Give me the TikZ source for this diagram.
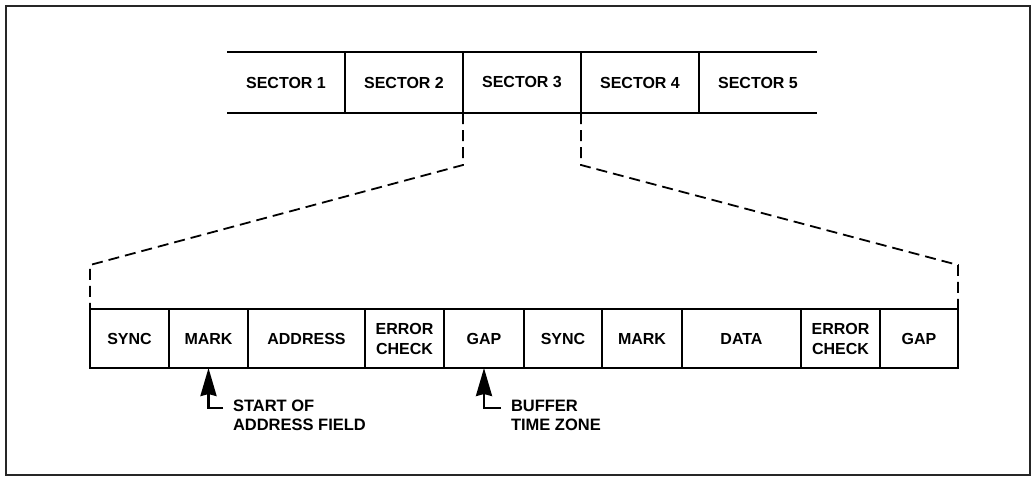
\documentclass[tikz,border=0pt]{standalone}
\usepackage{fontspec}
\setmainfont{Liberation Sans}
\usetikzlibrary{arrows.meta}

\begin{document}
\begin{tikzpicture}[x=1pt,y=-1pt,
  lbl/.style={font=\bfseries\fontsize{16}{20}\selectfont, align=center},
  frame/.style={draw=black!85, line width=1.3pt, minimum width=1024pt, minimum height=469pt, inner sep=0pt, outer sep=0pt},
  sector/.style={lbl, anchor=north west, minimum width=118pt, minimum height=61pt, inner sep=0pt, outer sep=0pt},
  bar/.style={line width=2.9pt},
  field/.style={lbl, draw, line width=2.9pt, anchor=north west, minimum height=59pt, inner sep=0pt, outer sep=0pt},
  dashline/.style={line width=1.8pt, dash pattern=on 11pt off 6pt},
  note/.style={font=\bfseries\fontsize{16.5}{19}\selectfont, align=left, anchor=north west, inner sep=0pt, outer sep=0pt},
  pointer/.style={line width=2.6pt, -{Stealth[length=28pt, width=16pt, inset=2pt]}}]

\useasboundingbox (0,0) rectangle (1031,477);

% outer frame
\node[frame] (border) at (518,240.5) {};

% track divided into sectors
\foreach \i/\x in {1/227,2/345,3/463,4/581,5/699}
  \node[sector] (s\i) at (\x,52) {SECTOR \i};
\draw[bar] (s1.north west) -- (s5.north east);
\draw[bar] (s1.south west) -- (s5.south east);
\foreach \i in {1,2,3,4}
  \draw[bar] (s\i.north east) -- (s\i.south east);

% expanded layout of one sector
\node[field, minimum width=79pt]  (f1)  at (90,309)  {SYNC};
\node[field, minimum width=79pt]  (f2)  at (169,309) {MARK};
\node[field, minimum width=117pt] (f3)  at (248,309) {ADDRESS};
\node[field, minimum width=79pt]  (f4)  at (365,309) {ERROR\\CHECK};
\node[field, minimum width=80pt]  (f5)  at (444,309) {GAP};
\node[field, minimum width=78pt]  (f6)  at (524,309) {SYNC};
\node[field, minimum width=80pt]  (f7)  at (602,309) {MARK};
\node[field, minimum width=119pt] (f8)  at (682,309) {DATA};
\node[field, minimum width=79pt]  (f9)  at (801,309) {ERROR\\CHECK};
\node[field, minimum width=78pt]  (f10) at (880,309) {GAP};

% projection lines from sector 3
\draw[dashline] (s3.south west) -- ++(0,52) -- ([yshift=44pt]f1.north west) -- (f1.north west);
\draw[dashline] (s4.south west) -- ++(0,52) -- ([yshift=44pt]f10.north east) -- (f10.north east);

% annotations
\node[note] (n1) at (233,400) {START OF\\ADDRESS FIELD};
\node[note] (n2) at (511,400) {BUFFER\\TIME ZONE};
\draw[pointer] ([xshift=-10pt,yshift=-8pt]n1.north west) -| (f2.south);
\draw[pointer] ([xshift=-10pt,yshift=-8pt]n2.north west) -| (f5.south);
\end{tikzpicture}
\end{document}
